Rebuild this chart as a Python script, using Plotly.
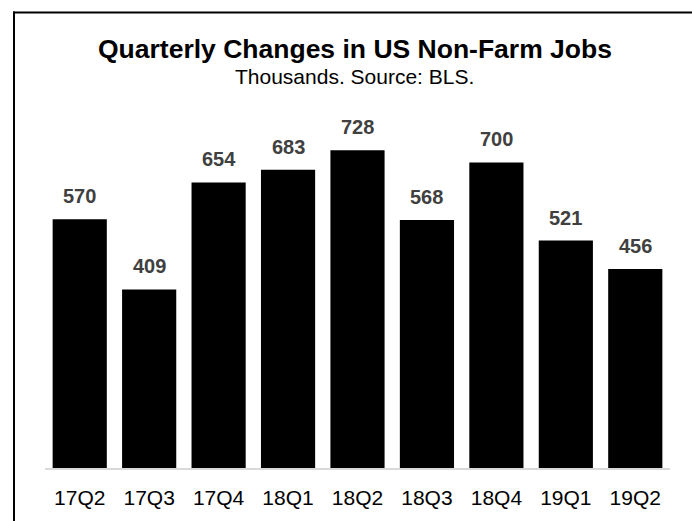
import plotly.graph_objects as go

quarters = ["17Q2", "17Q3", "17Q4", "18Q1", "18Q2", "18Q3", "18Q4", "19Q1", "19Q2"]
job_changes = [570, 409, 654, 683, 728, 568, 700, 521, 456]

title_text = "Quarterly Changes in US Non-Farm Jobs"
subtitle_text = "Thousands. Source: BLS."

W, H = 692, 521
L, R, T, B = 45, 22, 100, 47
pw, ph = W - L - R, H - T - B
px_per_unit = 323 / 728

def px_x(px):
    return (px - L) / pw

def px_y(py):
    return (H - B - py) / ph

FONT = "Liberation Sans, Arial, sans-serif"

fig = go.Figure()
fig.add_trace(go.Bar(
    x=quarters, y=job_changes,
    marker=dict(color="#000000", line=dict(width=0)),
    hoverinfo="x+y",
))

for q, v in zip(quarters, job_changes):
    fig.add_annotation(
        x=q, y=v, xref="x", yref="y",
        text=f"<b>{v}</b>", showarrow=False,
        yanchor="bottom", yshift=10,
        font=dict(family=FONT, size=20, color="#404040"),
    )

fig.add_annotation(
    x=px_x(355), y=px_y(48), xref="paper", yref="paper",
    text=f"<b>{title_text}</b>", showarrow=False,
    xanchor="center", yanchor="middle",
    font=dict(family=FONT, size=26.5, color="#000000"),
)
fig.add_annotation(
    x=px_x(354), y=px_y(76), xref="paper", yref="paper",
    text=subtitle_text, showarrow=False,
    xanchor="center", yanchor="middle",
    font=dict(family=FONT, size=21, color="#000000"),
)

# outer frame: only its top and left edges fall inside the picture
frame = dict(color="#000000", width=2)
fig.add_shape(type="line", xref="paper", yref="paper",
              x0=px_x(13), y0=px_y(11), x1=px_x(720), y1=px_y(11), line=frame)
fig.add_shape(type="line", xref="paper", yref="paper",
              x0=px_x(14), y0=px_y(10), x1=px_x(14), y1=px_y(560), line=frame)

fig.update_layout(
    width=W, height=H,
    margin=dict(l=L, r=R, t=T, b=B),
    paper_bgcolor="white", plot_bgcolor="white",
    bargap=0.22,
    showlegend=False,
    font=dict(family=FONT),
)
fig.update_xaxes(
    showline=True, linecolor="#d9d9d9", linewidth=2,
    ticks="", showgrid=False, ticklabelstandoff=10,
    tickfont=dict(size=21, color="#000000"),
)
fig.update_yaxes(
    range=[0, ph / px_per_unit],
    visible=False, showgrid=False, zeroline=False,
)

fig.write_html(
    "out.html",
    config={"displayModeBar": False},
    post_script="document.body.style.margin='0';document.body.style.overflow='hidden';",
)
